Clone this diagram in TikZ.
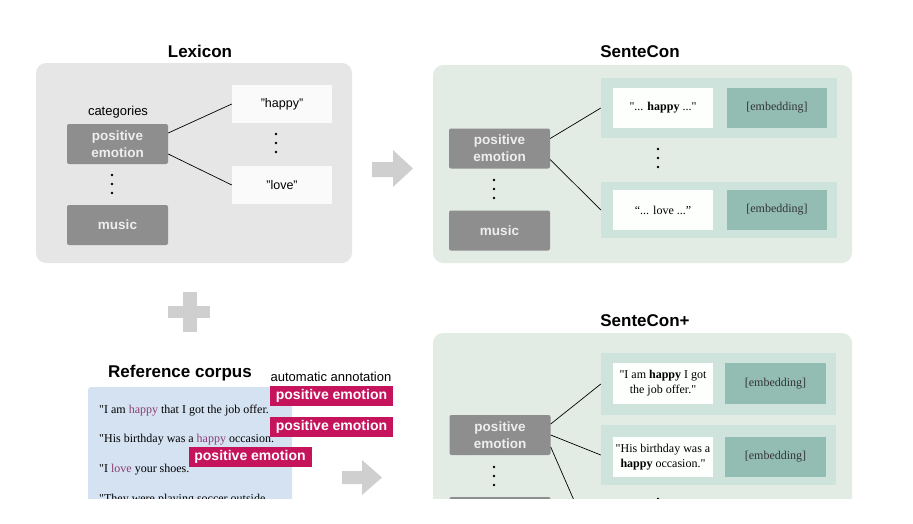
\documentclass[tikz,border=0pt]{standalone}
\usepackage{fontspec}
\setmainfont{Liberation Sans}
\newfontfamily\serifrm{Liberation Serif}

\definecolor{panelgray}{HTML}{E6E6E6}
\definecolor{catgray}{HTML}{8E8E8E}
\definecolor{cattext}{HTML}{EEEEEE}
\definecolor{panelgreen}{HTML}{E2ECE5}
\definecolor{rowteal}{HTML}{CDE3DB}
\definecolor{embteal}{HTML}{93BDB3}
\definecolor{corpusblue}{HTML}{D4E2F2}
\definecolor{tagpink}{HTML}{C5145C}
\definecolor{wordmauve}{HTML}{8B3D73}
\definecolor{arrowgray}{HTML}{CFCFCF}

\tikzset{
  title/.style={anchor=base, inner sep=0pt, font=\fontsize{17}{20}\selectfont\bfseries},
  panel/.style={rounded corners=10pt, inner sep=0pt},
  catbox/.style={fill=catgray, text=cattext, rounded corners=2pt, minimum width=101pt,
    minimum height=40pt, inner sep=0pt, align=center, font=\fontsize{13.5}{17}\selectfont\bfseries},
  wordbox/.style={fill=white!98!black, minimum width=100pt, minimum height=38pt, inner sep=0pt,
    font=\fontsize{12.5}{14}\selectfont},
  rowbox/.style={fill=rowteal, minimum width=236pt, inner sep=0pt},
  sentbox/.style={fill=white!99!green, minimum width=100pt, minimum height=40pt, inner sep=0pt,
    align=center, font=\serifrm\fontsize{12}{15}\selectfont},
  embbox/.style={fill=embteal, text=black!80, minimum width=100pt, minimum height=40pt, inner sep=0pt,
    font=\serifrm\fontsize{12}{14}\selectfont},
  tag/.style={fill=tagpink, text=white, minimum width=123pt, minimum height=20pt, inner sep=0pt,
    font=\fontsize{14}{16}\selectfont\bfseries},
  sent/.style={anchor=base west, inner sep=0pt, font=\serifrm\fontsize{12}{14}\selectfont},
  link/.style={line width=0.7pt}
}
% three dots in a column round a named coordinate
\newcommand\dotcolumn[1]{\foreach \d in {-9,0,9} \fill ([yshift=\d pt]#1) circle (1.4pt);}

\begin{document}
\begin{tikzpicture}[x=1pt,y=-1pt]
\useasboundingbox (0,0) rectangle (913,523);
\begin{scope}
\clip (0,0) rectangle (913,498);

% Lexicon
\node[title] (lextitle) at (200,57) {Lexicon};
\node[panel, fill=panelgray, minimum width=316pt, minimum height=200pt] (lexpanel) at (194,163) {};
\node[anchor=base, inner sep=0pt, font=\fontsize{13}{15}\selectfont] (categories) at (118,115) {categories};
\node[catbox] (lpos) at (117.5,144) {positive\\emotion};
\coordinate (lcatdots) at (112,184);
\node[catbox] (lmusic) at (117.5,225) {music};
\node[wordbox] (happy) at (282,104) {"happy"};
\coordinate (lworddots) at (276,143);
\node[wordbox] (love) at (282,185) {"love"};
\dotcolumn{lcatdots}
\dotcolumn{lworddots}

\draw[link] ([yshift=11pt]lpos.east) -- (happy.west);
\draw[link] ([yshift=-10pt]lpos.east) -- (love.west);

% arrows and plus
\fill[arrowgray] (372,162) -- (393,162) -- (393,150) -- (413,168.5) -- (393,187) -- (393,177) -- (372,177) -- cycle;
\fill[arrowgray] (342,471) -- (362,471) -- (362,460) -- (382,477.5) -- (362,495) -- (362,484) -- (342,484) -- cycle;
\fill[arrowgray] (183,292) rectangle (197,332);
\fill[arrowgray] (168,306) rectangle (210,318);

% SenteCon
\node[title] (sctitle) at (640,57) {SenteCon};
\node[panel, fill=panelgreen, minimum width=419pt, minimum height=198pt] (scpanel) at (642.5,164) {};
\node[catbox] (spos) at (499.5,148.5) {positive\\emotion};
\coordinate (scatdots) at (494,189);
\node[catbox] (smusic) at (499.5,230.5) {music};
\node[rowbox, minimum height=60pt] (srow1) at (719,108) {};
\node[rowbox, minimum height=56pt] (srow2) at (719,210) {};
\node[sentbox] (shappy) at (663,108) {"... \textbf{happy} ..."};
\node[embbox] (semb1) at (777,108) {[embedding]};
\coordinate (srowdots) at (658,158);
\node[sentbox] (slove) at (663,210) {“... love ...”};
\node[embbox] (semb2) at (777,210) {[embedding]};
\dotcolumn{scatdots}
\dotcolumn{srowdots}

\draw[link] ([yshift=10pt]spos.east) -- (srow1.west);
\draw[link] ([yshift=-11pt]spos.east) -- (srow2.west);

% Reference corpus
\node[title] (corpustitle) at (180,377) {Reference corpus};
\node[anchor=base, inner sep=0pt, font=\fontsize{13}{15}\selectfont] (annot) at (331,381) {automatic annotation};
\node[panel, rounded corners=3pt, fill=corpusblue, minimum width=204pt, minimum height=173pt] (corpus) at (190,473.5) {};
\node[sent] (sent1) at (99,413) {"I am \textcolor{wordmauve}{happy} that I got the job offer.};
\node[sent] (sent2) at (99,442) {"His birthday was a \textcolor{wordmauve}{happy} occasion.};
\node[sent] (sent3) at (99,472) {"I \textcolor{wordmauve}{love} your shoes.};
\node[sent] (sent4) at (99,502) {"They were playing soccer outside.};
\node[tag] (tag1) at (331.5,396) {positive emotion};
\node[tag] (tag2) at (331.5,426.5) {positive emotion};
\node[tag] (tag3) at (250,456.5) {positive emotion};

% SenteCon+
\node[title] (sptitle) at (645,326) {SenteCon+};
\node[panel, fill=panelgreen, minimum width=419pt, minimum height=227pt] (sppanel) at (642.5,446.5) {};
\node[catbox] (ppos) at (500,435) {positive\\emotion};
\coordinate (pcatdots) at (494,476);
\node[catbox] (pcat3) at (500,517) {};
\node[rowbox, minimum height=62pt, minimum width=235pt] (prow1) at (718.5,384) {};
\node[rowbox, minimum height=60pt, minimum width=235pt] (prow2) at (718.5,455) {};
\node[sentbox, minimum height=41pt] (psent1) at (663,383.5) {"I am \textbf{happy} I got\\the job offer."};
\node[embbox, minimum height=41pt, minimum width=101pt] (pemb1) at (775.5,383.5) {[embedding]};
\node[sentbox] (psent2) at (663,457) {"His birthday was a\\\textbf{happy} occasion."};
\node[embbox, minimum width=101pt] (pemb2) at (775.5,457) {[embedding]};
\coordinate (prowdots) at (658,508);
\coordinate (prow3) at (590,537);
\dotcolumn{pcatdots}
\dotcolumn{prowdots}

\draw[link] ([yshift=11pt]ppos.east) -- (prow1.west);
\draw[link] (ppos.east) -- (prow2.west);
\draw[link] ([yshift=-12pt]ppos.east) -- (prow3);
\end{scope}
\end{tikzpicture}
\end{document}
